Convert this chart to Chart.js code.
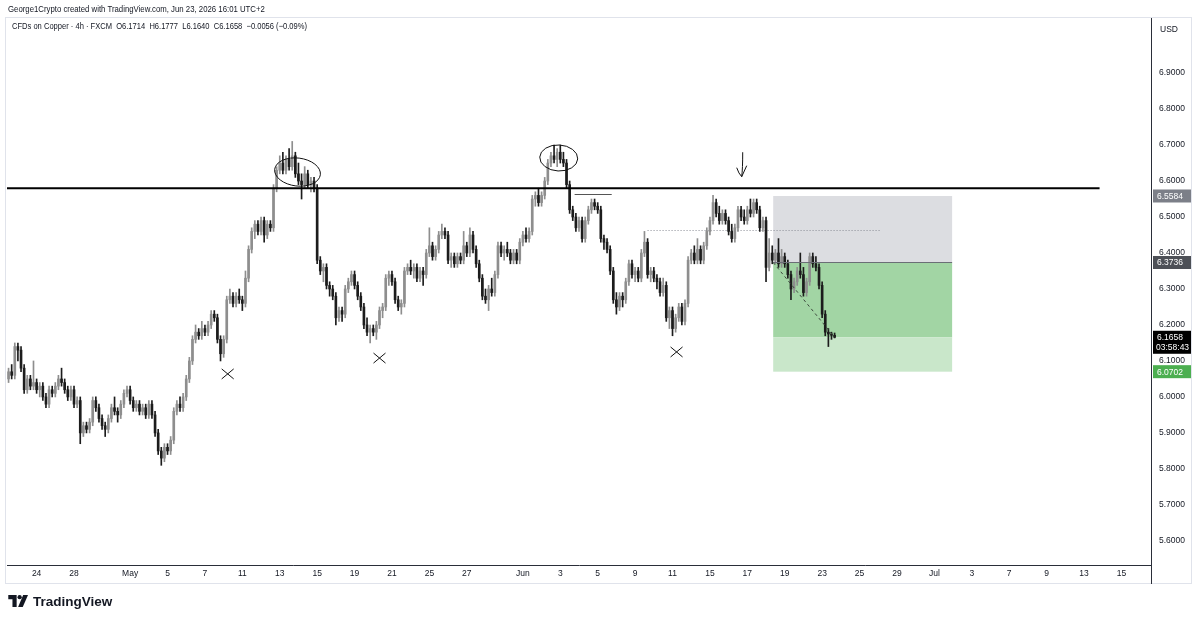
<!DOCTYPE html>
<html>
<head>
<meta charset="utf-8">
<script src="https://cdn.jsdelivr.net/npm/chart.js@4.4.1/dist/chart.umd.min.js"></script>
<style>
  html, body { margin: 0; padding: 0; background: #fff; }
  #wrap { position: relative; width: 1200px; height: 622px; font-family: "Liberation Sans", Arial, sans-serif; color: #131722; }
  #chart { position: absolute; left: 0; top: 0; }
  .credit { position: absolute; left: 8px; top: 3px; font-size: 9.5px; white-space: nowrap; transform: scaleX(0.82); transform-origin: 0 0; }
  .title { position: absolute; left: 12px; top: 21px; font-size: 9px; white-space: nowrap; transform: scaleX(0.84); transform-origin: 0 0; }
  .usd { position: absolute; left: 1156px; top: 22px; width: 32px; height: 15px; line-height: 15px; font-size: 8.5px; padding-left: 4px; box-sizing: border-box; }
  .logo { position: absolute; left: 8px; top: 594px; font-size: 13.5px; font-weight: bold; display: flex; align-items: center; gap: 4px; }
</style>
</head>
<body>
<div id="wrap">
  <canvas id="chart" width="1200" height="622"></canvas>
  <div class="credit">George1Crypto created with TradingView.com, Jun 23, 2026 16:01 UTC+2</div>
  <div class="title">CFDs on Copper · 4h · FXCM&nbsp;&nbsp;O6.1714&nbsp;&nbsp;H6.1777&nbsp;&nbsp;L6.1640&nbsp;&nbsp;C6.1658&nbsp;&nbsp;−0.0056 (−0.09%)</div>
  <div class="usd">USD</div>
  <div class="logo">
    <svg width="21" height="13" viewBox="0 0 22 14"><path d="M0 0h9v13h-4.5v-8.5h-4.5z" fill="#131722"/><circle cx="12.2" cy="2.4" r="2.3" fill="#131722"/><path d="M16 0h5.2l-5.6 13h-5z" fill="#131722"/></svg>
    <span>TradingView</span>
  </div>
</div>
<script>
// 4h candles, slot 0 = first bar of Apr 24, 6 bars per trading day
const FIRST = -9;
const LAST_SLOT = 357;

const opens = [
  6.05, 6.07, 6.06, 6.14, 6.13, 6.08, 6.02, 6.05, 6.03, 6.04,
  6.02, 6.03, 6.00, 5.98, 6.02, 6.01, 6.03, 6.05, 6.04, 6.02,
  6.00, 6.02, 5.98, 5.99, 5.90, 5.92, 5.91, 5.93, 5.99, 5.97,
  5.94, 5.92, 5.91, 5.94, 5.97, 5.96, 5.95, 5.98, 6.01, 6.02,
  5.99, 5.97, 5.98, 5.96, 5.97, 5.95, 5.98, 5.95, 5.90, 5.85,
  5.83, 5.86, 5.85, 5.88, 5.96, 5.98, 5.97, 6.00, 6.05, 6.10,
  6.16, 6.18, 6.17, 6.19, 6.18, 6.20, 6.23, 6.22, 6.16, 6.12,
  6.16, 6.27, 6.28, 6.26, 6.28, 6.27, 6.26, 6.33, 6.41, 6.46,
  6.48, 6.46, 6.49, 6.45, 6.48, 6.47, 6.58, 6.63, 6.65, 6.63,
  6.66, 6.64, 6.67, 6.62, 6.60, 6.59, 6.62, 6.59, 6.60, 6.58,
  6.38, 6.35, 6.36, 6.31, 6.30, 6.28, 6.22, 6.24, 6.23, 6.30,
  6.32, 6.34, 6.31, 6.28, 6.25, 6.20, 6.18, 6.19, 6.18, 6.20,
  6.24, 6.25, 6.33, 6.34, 6.32, 6.27, 6.25, 6.26, 6.35, 6.36,
  6.35, 6.36, 6.33, 6.35, 6.34, 6.40, 6.42, 6.39, 6.41, 6.45,
  6.46, 6.45, 6.38, 6.39, 6.37, 6.39, 6.38, 6.42, 6.40, 6.45,
  6.41, 6.37, 6.33, 6.28, 6.27, 6.30, 6.29, 6.34, 6.42, 6.40,
  6.41, 6.40, 6.38, 6.40, 6.38, 6.43, 6.45, 6.44, 6.46, 6.55,
  6.56, 6.54, 6.56, 6.60, 6.65, 6.67, 6.66, 6.68, 6.66, 6.65,
  6.59, 6.52, 6.50, 6.47, 6.49, 6.44, 6.49, 6.52, 6.54, 6.53,
  6.52, 6.44, 6.43, 6.41, 6.35, 6.27, 6.25, 6.28, 6.27, 6.32,
  6.37, 6.34, 6.35, 6.33, 6.40, 6.43, 6.34, 6.35, 6.33, 6.32,
  6.29, 6.31, 6.22, 6.24, 6.19, 6.22, 6.25, 6.21, 6.26, 6.38,
  6.40, 6.38, 6.41, 6.38, 6.42, 6.46, 6.49, 6.54, 6.51, 6.49,
  6.51, 6.49, 6.46, 6.44, 6.47, 6.52, 6.50, 6.49, 6.52, 6.51,
  6.54, 6.52, 6.47, 6.49, 6.36, 6.40, 6.38, 6.40, 6.37, 6.39,
  6.37, 6.34, 6.30, 6.32, 6.35, 6.34, 6.29, 6.32, 6.39, 6.37,
  6.36, 6.31, 6.23, 6.18, 6.175, 6.1714
];
const highs = [
  6.08, 6.09, 6.15, 6.15, 6.14, 6.09, 6.06, 6.06, 6.10, 6.05,
  6.04, 6.04, 6.01, 6.03, 6.03, 6.04, 6.06, 6.08, 6.05, 6.03,
  6.03, 6.03, 6.00, 6.00, 5.93, 5.93, 5.94, 6.00, 6.00, 5.98,
  5.95, 5.93, 5.95, 5.98, 6.00, 5.97, 5.99, 6.02, 6.03, 6.03,
  6.00, 5.99, 5.99, 5.98, 5.98, 5.99, 5.99, 5.96, 5.91, 5.86,
  5.87, 5.87, 5.89, 5.97, 5.99, 6.00, 6.01, 6.06, 6.11, 6.17,
  6.20, 6.19, 6.21, 6.20, 6.21, 6.24, 6.24, 6.23, 6.17, 6.17,
  6.28, 6.30, 6.29, 6.29, 6.30, 6.28, 6.35, 6.42, 6.47, 6.49,
  6.49, 6.50, 6.50, 6.49, 6.49, 6.59, 6.64, 6.67, 6.68, 6.67,
  6.69, 6.71, 6.68, 6.65, 6.62, 6.64, 6.63, 6.61, 6.61, 6.59,
  6.39, 6.37, 6.37, 6.32, 6.31, 6.29, 6.25, 6.25, 6.31, 6.33,
  6.35, 6.35, 6.32, 6.29, 6.26, 6.22, 6.20, 6.20, 6.21, 6.25,
  6.26, 6.34, 6.35, 6.35, 6.33, 6.28, 6.27, 6.36, 6.37, 6.38,
  6.37, 6.37, 6.36, 6.36, 6.41, 6.47, 6.43, 6.42, 6.46, 6.48,
  6.47, 6.46, 6.40, 6.40, 6.40, 6.40, 6.46, 6.43, 6.47, 6.46,
  6.42, 6.38, 6.34, 6.30, 6.31, 6.33, 6.35, 6.43, 6.43, 6.42,
  6.43, 6.41, 6.41, 6.41, 6.44, 6.46, 6.47, 6.47, 6.56, 6.57,
  6.58, 6.57, 6.61, 6.66, 6.68, 6.70, 6.69, 6.70, 6.68, 6.66,
  6.60, 6.53, 6.51, 6.50, 6.50, 6.50, 6.53, 6.55, 6.55, 6.54,
  6.53, 6.45, 6.44, 6.42, 6.36, 6.29, 6.29, 6.29, 6.33, 6.38,
  6.38, 6.36, 6.36, 6.41, 6.46, 6.44, 6.36, 6.36, 6.34, 6.33,
  6.33, 6.32, 6.25, 6.25, 6.23, 6.26, 6.26, 6.27, 6.39, 6.41,
  6.42, 6.44, 6.42, 6.43, 6.47, 6.50, 6.56, 6.55, 6.53, 6.52,
  6.52, 6.50, 6.48, 6.48, 6.53, 6.53, 6.52, 6.53, 6.55, 6.55,
  6.55, 6.53, 6.50, 6.50, 6.44, 6.42, 6.41, 6.44, 6.41, 6.40,
  6.38, 6.35, 6.33, 6.36, 6.40, 6.36, 6.33, 6.40, 6.40, 6.39,
  6.37, 6.32, 6.24, 6.19, 6.18, 6.1777
];
const lows = [
  6.04, 6.05, 6.05, 6.10, 6.07, 6.01, 6.01, 6.02, 6.02, 6.01,
  6.00, 5.99, 5.97, 5.97, 6.00, 6.00, 6.02, 6.03, 6.01, 5.99,
  5.99, 5.97, 5.97, 5.87, 5.89, 5.90, 5.90, 5.92, 5.96, 5.93,
  5.91, 5.89, 5.90, 5.93, 5.95, 5.93, 5.94, 5.97, 6.00, 5.98,
  5.96, 5.96, 5.95, 5.95, 5.94, 5.94, 5.94, 5.89, 5.84, 5.81,
  5.82, 5.84, 5.84, 5.87, 5.95, 5.96, 5.96, 5.99, 6.04, 6.09,
  6.15, 6.16, 6.16, 6.17, 6.17, 6.19, 6.21, 6.15, 6.10, 6.11,
  6.15, 6.26, 6.25, 6.25, 6.26, 6.24, 6.25, 6.32, 6.40, 6.44,
  6.45, 6.45, 6.43, 6.44, 6.46, 6.46, 6.57, 6.62, 6.62, 6.62,
  6.63, 6.63, 6.61, 6.59, 6.55, 6.58, 6.58, 6.57, 6.57, 6.37,
  6.34, 6.32, 6.30, 6.28, 6.27, 6.20, 6.21, 6.21, 6.22, 6.29,
  6.31, 6.30, 6.27, 6.24, 6.19, 6.17, 6.15, 6.17, 6.16, 6.19,
  6.22, 6.24, 6.31, 6.31, 6.26, 6.24, 6.23, 6.25, 6.34, 6.34,
  6.33, 6.32, 6.32, 6.31, 6.33, 6.39, 6.38, 6.38, 6.40, 6.44,
  6.44, 6.37, 6.36, 6.36, 6.36, 6.37, 6.37, 6.39, 6.39, 6.40,
  6.36, 6.32, 6.27, 6.26, 6.24, 6.28, 6.28, 6.33, 6.39, 6.38,
  6.39, 6.37, 6.37, 6.37, 6.37, 6.42, 6.43, 6.43, 6.45, 6.53,
  6.53, 6.53, 6.55, 6.59, 6.64, 6.65, 6.64, 6.65, 6.64, 6.58,
  6.51, 6.49, 6.46, 6.46, 6.43, 6.43, 6.48, 6.51, 6.52, 6.51,
  6.43, 6.41, 6.40, 6.34, 6.26, 6.23, 6.24, 6.25, 6.26, 6.31,
  6.33, 6.32, 6.32, 6.32, 6.39, 6.33, 6.32, 6.32, 6.30, 6.28,
  6.28, 6.21, 6.19, 6.17, 6.18, 6.21, 6.20, 6.20, 6.25, 6.37,
  6.37, 6.37, 6.37, 6.37, 6.41, 6.45, 6.48, 6.50, 6.48, 6.48,
  6.48, 6.45, 6.43, 6.43, 6.46, 6.49, 6.48, 6.48, 6.50, 6.50,
  6.51, 6.46, 6.46, 6.32, 6.35, 6.37, 6.37, 6.36, 6.36, 6.36,
  6.33, 6.27, 6.29, 6.31, 6.33, 6.28, 6.28, 6.31, 6.36, 6.35,
  6.30, 6.22, 6.17, 6.14, 6.16, 6.1640
];
const closes = [
  6.07, 6.06, 6.14, 6.13, 6.08, 6.02, 6.05, 6.03, 6.04, 6.02,
  6.03, 6.00, 5.98, 6.02, 6.01, 6.03, 6.05, 6.04, 6.02, 6.00,
  6.02, 5.98, 5.99, 5.90, 5.92, 5.91, 5.93, 5.99, 5.97, 5.94,
  5.92, 5.91, 5.94, 5.97, 5.96, 5.95, 5.98, 6.01, 6.02, 5.99,
  5.97, 5.98, 5.96, 5.97, 5.95, 5.98, 5.95, 5.90, 5.85, 5.83,
  5.86, 5.85, 5.88, 5.96, 5.98, 5.97, 6.00, 6.05, 6.10, 6.16,
  6.18, 6.17, 6.19, 6.18, 6.20, 6.23, 6.22, 6.16, 6.12, 6.16,
  6.27, 6.28, 6.26, 6.28, 6.27, 6.26, 6.33, 6.41, 6.46, 6.48,
  6.46, 6.49, 6.45, 6.48, 6.47, 6.58, 6.63, 6.65, 6.63, 6.66,
  6.64, 6.67, 6.62, 6.60, 6.59, 6.62, 6.59, 6.60, 6.58, 6.38,
  6.35, 6.36, 6.31, 6.30, 6.28, 6.22, 6.24, 6.23, 6.30, 6.32,
  6.34, 6.31, 6.28, 6.25, 6.20, 6.18, 6.19, 6.18, 6.20, 6.24,
  6.25, 6.33, 6.34, 6.32, 6.27, 6.25, 6.26, 6.35, 6.36, 6.35,
  6.36, 6.33, 6.35, 6.34, 6.40, 6.42, 6.39, 6.41, 6.45, 6.46,
  6.45, 6.38, 6.39, 6.37, 6.39, 6.38, 6.42, 6.40, 6.45, 6.41,
  6.37, 6.33, 6.28, 6.27, 6.30, 6.29, 6.34, 6.42, 6.40, 6.41,
  6.40, 6.38, 6.40, 6.38, 6.43, 6.45, 6.44, 6.46, 6.55, 6.56,
  6.54, 6.56, 6.60, 6.65, 6.67, 6.66, 6.68, 6.66, 6.65, 6.59,
  6.52, 6.50, 6.47, 6.49, 6.44, 6.49, 6.52, 6.54, 6.53, 6.52,
  6.44, 6.43, 6.41, 6.35, 6.27, 6.25, 6.28, 6.27, 6.32, 6.37,
  6.34, 6.35, 6.33, 6.40, 6.43, 6.34, 6.35, 6.33, 6.32, 6.29,
  6.31, 6.22, 6.24, 6.19, 6.22, 6.25, 6.21, 6.26, 6.38, 6.40,
  6.38, 6.41, 6.38, 6.42, 6.46, 6.49, 6.54, 6.51, 6.49, 6.51,
  6.49, 6.46, 6.44, 6.47, 6.52, 6.50, 6.49, 6.52, 6.51, 6.54,
  6.52, 6.47, 6.49, 6.36, 6.40, 6.38, 6.40, 6.37, 6.39, 6.37,
  6.34, 6.30, 6.32, 6.35, 6.34, 6.29, 6.32, 6.39, 6.37, 6.36,
  6.31, 6.23, 6.18, 6.175, 6.1714, 6.1658
];

// x axis: trading-day index (from Apr 24) and its label
const tickDays = [0, 2, 5, 7, 9, 11, 13, 15, 17, 19, 21, 23, 26, 28, 30, 32, 34, 36, 38, 40, 42, 44, 46, 48, 50, 52, 54, 56, 58];
const tickLabels = ["24", "28", "May", "5", "7", "11", "13", "15", "19", "21", "25", "27", "Jun", "3", "5", "9", "11", "15", "17", "19", "23", "25", "29", "Jul", "3", "7", "9", "13", "15"];
const priceTicks = [5.6, 5.7, 5.8, 5.9, 6.0, 6.1, 6.2, 6.3, 6.4, 6.5, 6.6, 6.7, 6.8, 6.9];

// short position tool
const stopPrice = 6.5584;
const entryPrice = 6.3736;
const lastPrice = 6.1658;
const targetPrice = 6.0702;
const resistance = 6.58;

const UP = '#8e8e8e';
const DOWN = '#1c1c1c';

const slots = [];
for (let s = FIRST; s <= LAST_SLOT; s++) slots.push(s);
const labels = slots.map(String);
const candleAt = s => s - FIRST; // index into ohlc arrays
const nCandles = closes.length;

const wickData = slots.map(s => { const k = candleAt(s); return k < nCandles ? [lows[k], highs[k]] : null; });
const bodyData = slots.map(s => { const k = candleAt(s); return k < nCandles ? [opens[k], closes[k]] : null; });
const colors = slots.map(s => { const k = candleAt(s); return k < nCandles && closes[k] >= opens[k] ? UP : DOWN; });

const overlay = {
  id: 'overlay',
  beforeDatasetsDraw(chart) {
    const { ctx, scales: { x, y } } = chart;
    const X = s => x.getPixelForValue(s - FIRST);
    const x0 = X(236.3), x1 = X(293.7);
    ctx.save();
    ctx.fillStyle = '#dcdde1';
    ctx.fillRect(x0, y.getPixelForValue(stopPrice), x1 - x0, y.getPixelForValue(entryPrice) - y.getPixelForValue(stopPrice));
    ctx.fillStyle = '#a2d5a4';
    ctx.fillRect(x0, y.getPixelForValue(entryPrice), x1 - x0, y.getPixelForValue(lastPrice) - y.getPixelForValue(entryPrice));
    ctx.fillStyle = '#c9e7ca';
    ctx.fillRect(x0, y.getPixelForValue(lastPrice), x1 - x0, y.getPixelForValue(targetPrice) - y.getPixelForValue(lastPrice));
    // dotted level
    ctx.strokeStyle = '#8a8d96';
    ctx.lineWidth = 1;
    ctx.setLineDash([1, 2]);
    const yd = Math.round(y.getPixelForValue(6.464)) + 0.5;
    ctx.beginPath(); ctx.moveTo(X(196), yd); ctx.lineTo(X(271), yd); ctx.stroke();
    ctx.restore();
  },
  afterDatasetsDraw(chart) {
    const { ctx, chartArea, scales: { x, y } } = chart;
    const X = s => x.getPixelForValue(s - FIRST);
    const Y = p => y.getPixelForValue(p);
    ctx.save();
    // resistance
    ctx.strokeStyle = '#000';
    ctx.lineWidth = 2;
    ctx.beginPath(); ctx.moveTo(chartArea.left, Y(resistance)); ctx.lineTo(X(341), Y(resistance)); ctx.stroke();
    // entry line and path of trade
    const x0 = X(236.3), x1 = X(293.7);
    ctx.strokeStyle = '#6b6e76';
    ctx.lineWidth = 1;
    ctx.beginPath(); ctx.moveTo(x0, Math.round(Y(entryPrice)) + 0.5); ctx.lineTo(x1, Math.round(Y(entryPrice)) + 0.5); ctx.stroke();
    ctx.setLineDash([3, 3]);
    ctx.strokeStyle = '#3d4a3e';
    ctx.beginPath(); ctx.moveTo(x0, Y(entryPrice)); ctx.lineTo(X(256), Y(lastPrice)); ctx.stroke();
    ctx.setLineDash([]);
    // short line under the June top
    ctx.strokeStyle = '#555';
    const ys = Math.round(Y(6.564)) + 0.5;
    ctx.beginPath(); ctx.moveTo(X(172.6), ys); ctx.lineTo(X(184.5), ys); ctx.stroke();
    // ellipses round the tops
    ctx.strokeStyle = '#111';
    ctx.lineWidth = 1;
    ctx.beginPath(); ctx.ellipse(X(83.7), Y(6.625), 23, 14, 0.12, 0, Math.PI * 2); ctx.stroke();
    ctx.beginPath(); ctx.ellipse(X(167.5), Y(6.664), 19, 13, 0.05, 0, Math.PI * 2); ctx.stroke();
    // crosses at the lows
    [[61.3, 6.064], [110, 6.108], [205.3, 6.125]].forEach(([s, p]) => {
      const cx = X(s), cy = Y(p);
      ctx.beginPath();
      ctx.moveTo(cx - 6, cy - 5); ctx.lineTo(cx + 6, cy + 5);
      ctx.moveTo(cx + 6, cy - 5); ctx.lineTo(cx - 6, cy + 5);
      ctx.stroke();
    });
    // hand drawn arrow
    const ax = X(226.2), ay0 = Y(6.68), ay1 = Y(6.612);
    ctx.beginPath();
    ctx.moveTo(ax + 1, ay0); ctx.quadraticCurveTo(ax + 1, ay1 - 8, ax, ay1);
    ctx.moveTo(ax - 5, ay1 - 9); ctx.quadraticCurveTo(ax - 3, ay1 - 3, ax, ay1);
    ctx.lineTo(ax + 5, ay1 - 11);
    ctx.stroke();
    ctx.restore();
  },
  afterDraw(chart) {
    const { ctx, chartArea, scales: { y } } = chart;
    ctx.save();
    // frame
    ctx.strokeStyle = '#e0e3eb';
    ctx.lineWidth = 1;
    ctx.strokeRect(5.5, 17.5, 1186, 566);
    ctx.strokeStyle = '#2a2e39';
    ctx.beginPath(); ctx.moveTo(Math.round(chartArea.right) + 0.5, chartArea.bottom); ctx.lineTo(Math.round(chartArea.right) + 0.5, 584); ctx.stroke();
    // price tags
    ctx.font = "8.5px 'Liberation Sans', Arial, sans-serif";
    ctx.textBaseline = 'middle';
    const tl = chartArea.right + 2;
    const tag = (p, bg, fg, h) => {
      const yc = y.getPixelForValue(p);
      ctx.fillStyle = bg;
      ctx.fillRect(tl, yc - 6.5, 38, h);
      ctx.fillStyle = fg;
      ctx.fillText(p.toFixed(4), tl + 4, yc + 0.5);
    };
    tag(stopPrice, '#7c7f88', '#fff', 13);
    tag(entryPrice, '#4d5057', '#fff', 13);
    tag(targetPrice, '#4caf50', '#fff', 13);
    tag(lastPrice, '#000', '#fff', 23);
    ctx.fillStyle = '#fff';
    ctx.fillText('03:58:43', tl + 3, y.getPixelForValue(lastPrice) + 10.5);
    ctx.restore();
  }
};

Chart.defaults.font.family = "'Liberation Sans', Arial, sans-serif";
Chart.defaults.color = '#131722';

new Chart(document.getElementById('chart'), {
  type: 'bar',
  data: {
    labels: labels,
    datasets: [
      { data: bodyData, backgroundColor: colors, barThickness: 2, minBarLength: 1, grouped: false, order: 0 },
      { data: wickData, backgroundColor: colors, barThickness: 1, grouped: false, order: 1 }
    ]
  },
  options: {
    responsive: false,
    animation: false,
    layout: { padding: { left: 7, right: 8, top: 18, bottom: 39 } },
    plugins: { legend: { display: false }, tooltip: { enabled: false } },
    scales: {
      x: {
        grid: { display: false, drawTicks: false },
        border: { display: true, color: '#2a2e39' },
        afterFit: s => { s.height = 18; },
        ticks: {
          autoSkip: false,
          maxRotation: 0,
          padding: 4,
          font: { size: 8.5 },
          callback: (v, i) => {
            const s = i + FIRST;
            if (s % 6 !== 0) return '';
            const k = tickDays.indexOf(s / 6);
            return k >= 0 ? tickLabels[k] : '';
          }
        }
      },
      y: {
        position: 'right',
        min: 5.533,
        max: 7.053,
        grid: { display: false, drawTicks: false },
        border: { display: true, color: '#2a2e39' },
        afterFit: s => { s.width = 41; },
        afterBuildTicks: s => { s.ticks = priceTicks.map(v => ({ value: v })); },
        ticks: { padding: 8, font: { size: 8.5 }, callback: v => Number(v).toFixed(4) }
      }
    }
  },
  plugins: [overlay]
});
</script>
</body>
</html>
